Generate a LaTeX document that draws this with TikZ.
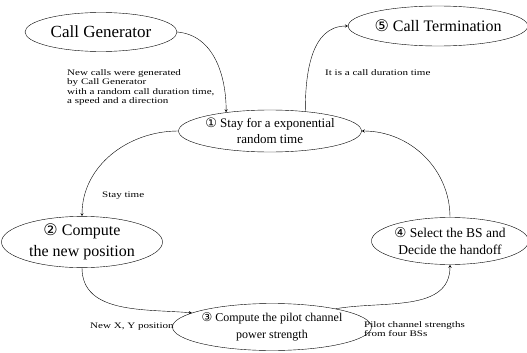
\documentclass[tikz,border=0pt]{standalone}
\usepackage{fontspec}
\setmainfont{Liberation Serif}
\newfontfamily\circfont{DejaVu Sans}
\newfontfamily\notefont[FakeStretch=1.3]{Liberation Serif}
\usetikzlibrary{shapes.geometric}
\usetikzlibrary{positioning}
\usetikzlibrary{calc}

\newcommand{\cnum}[1]{{\circfont #1}}

\begin{document}
\begin{tikzpicture}[x = 1pt, y = -1pt,
		stage/.style = {ellipse, draw, inner sep = 0pt, align = center},
		flow/.style = {->, >=stealth},
		note/.style = {inner sep = 0pt, align = left, font = \notefont\fontsize{8.5}{9.5}\selectfont}]
		\useasboundingbox (0, 0) rectangle (527, 353);

		\node [stage, minimum width = 152, minimum height = 39, font = \fontsize{17}{19}\selectfont] (gen) at (101, 32) {Call Generator};
		\node [stage, minimum width = 150, minimum height = 40, font = \fontsize{16}{18}\selectfont] (term) at (438, 26) {\cnum{⑤} Call Termination};
		\node [stage, minimum width = 154, minimum height = 42, font = \fontsize{13}{16}\selectfont] (stay) at (270, 131) {\cnum{①} Stay for a exponential\\random time};
		\node [stage, minimum width = 161, minimum height = 48, font = \fontsize{16}{21}\selectfont] (newpos) at (82, 242) {\cnum{②} Compute\\the new position};
		\node [stage, minimum width = 148, minimum height = 47, font = \fontsize{12}{17}\selectfont] (pilot) at (272, 327) {\cnum{③} Compute the pilot channel\\power strength};
		\node [stage, minimum width = 150, minimum height = 47, font = \fontsize{13.5}{17}\selectfont] (bs) at (450, 241) {\cnum{④} Select the BS and\\Decide the handoff};

		\draw [flow] (gen.east) to [out = -5, in = 90] (stay.157);
		\draw [flow] (stay.29) to [out = 90, in = 180] (term.west);
		\draw [flow] (stay.west) to [out = 180, in = 90] (newpos.north);
		\draw [flow] (newpos.south) to [out = -90, in = 175] (pilot.170);
		\draw [flow] (pilot.16) to [out = 10, in = -90] (bs.south);
		\draw [flow] (bs.north) to [out = 90, in = 0] (stay.east);

		\node [note, anchor = north west] (gennote) at (67, 69) {New calls were generated\\by Call Generator\\with a random call duration time,\\a speed and a direction};
		\node [note, anchor = west] (termnote) at (325, 73) {It is a call duration time};
		\node [note, anchor = west] (staynote) at (102, 196) {Stay time};
		\node [note, anchor = west] (posnote) at (90, 327) {New X, Y position};
		\node [note, anchor = north west] (pilotnote) at (364, 321) {Pilot channel strengths\\from four BSs};
	\end{tikzpicture}
\end{document}
